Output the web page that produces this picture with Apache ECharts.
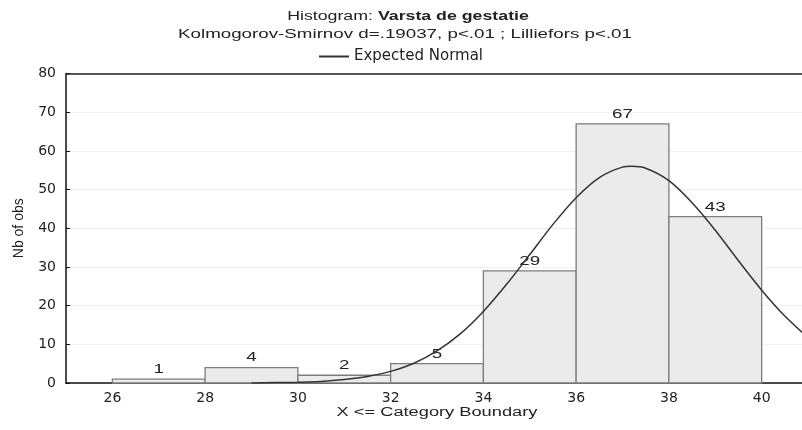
<!DOCTYPE html>
<html><head><meta charset="utf-8">
<script src="https://cdn.jsdelivr.net/npm/echarts@6/dist/echarts.min.js"></script>
<style>html,body{margin:0;padding:0;background:#fff}#c{width:802px;height:430px}</style>
</head><body><div id="c"></div>
<script>
// Histogram bins (lower edge, upper edge) and counts
const binLower = [26, 28, 30, 32, 34, 36, 38];
const binUpper = [28, 30, 32, 34, 36, 38, 40];
const counts = [1, 4, 2, 5, 29, 67, 43];
// Expected normal curve
const curveX = [29, 29.5, 30, 30.5, 31, 31.5, 32, 32.5, 33, 33.5, 34, 34.5, 35, 35.5, 36, 36.5, 37, 37.2, 37.5, 38, 38.5, 39, 39.5, 40, 40.5, 41];
const curveY = [0.0, 0.1, 0.2, 0.4, 0.9, 1.7, 3.0, 5.1, 8.3, 12.7, 18.5, 25.5, 33.2, 41.0, 47.9, 53.1, 55.8, 56.0, 55.5, 52.3, 46.6, 39.5, 31.6, 24.0, 17.3, 11.7];
const xTicks = [26, 28, 30, 32, 34, 36, 38, 40];
const yTop = 80;
const titleMain = 'Histogram: ';
const titleBold = 'Varsta de gestatie';
const subtitle = 'Kolmogorov-Smirnov d=.19037, p<.01 ; Lilliefors p<.01';
const xName = 'X <= Category Boundary';
const yName = 'Nb of obs';

const FONT = 'Liberation Sans, Arial, sans-serif';
const WFONT = 'DejaVu Sans, Verdana, sans-serif';
const chart = echarts.init(document.getElementById('c'));
const histData = binLower.map((l, i) => [l, binUpper[i], counts[i]]);
const curveData = curveX.map((x, i) => [x, curveY[i]]);

chart.setOption({
  backgroundColor: '#fff',
  animation: false,
  graphic: [{
    type: 'text', x: 408, y: 17, scaleX: 1.42,
    style: {
      text: '{n|' + titleMain + '}{b|' + titleBold + '}',
      align: 'center', verticalAlign: 'middle',
      rich: {
        n: { fontFamily: FONT, fontSize: 12.5, fontWeight: 'normal', fill: '#222' },
        b: { fontFamily: FONT, fontSize: 12.5, fontWeight: 'bold', fill: '#222' }
      }
    }
  }, {
    type: 'text', x: 405, y: 35, scaleX: 1.5,
    style: { text: subtitle, align: 'center', verticalAlign: 'middle',
             font: '12.5px ' + FONT, fill: '#222' }
  }, {
    type: 'text', x: 437, y: 413, scaleX: 1.52,
    style: { text: xName, align: 'center', verticalAlign: 'middle',
             font: '12px ' + FONT, fill: '#222' }
  }],
  legend: {
    top: 44, left: 'center',
    itemWidth: 30, itemHeight: 2, itemGap: 6,
    textStyle: { fontFamily: WFONT, fontSize: 15, color: '#222' },
    data: [{ name: 'Expected Normal', icon: 'rect', itemStyle: { color: '#333' } }]
  },
  grid: { left: 66, right: 0, top: 73.5, bottom: 47 },
  xAxis: {
    type: 'value', min: 25, max: 40.87,
    splitLine: { show: false },
    axisLine: { show: true, onZero: false, lineStyle: { color: '#111', width: 1.5 } },
    axisTick: { show: true, inside: true, length: 4, customValues: xTicks, lineStyle: { color: '#111' } },
    axisLabel: { customValues: xTicks, fontFamily: WFONT, fontSize: 14, color: '#222', margin: 8 }
  },
  yAxis: {
    type: 'value', min: 0, max: 80, interval: 10,
    axisLine: { show: true, onZero: false, lineStyle: { color: '#111', width: 1.5 } },
    axisTick: { show: true, inside: true, length: 4, lineStyle: { color: '#111' } },
    axisLabel: { fontFamily: WFONT, fontSize: 14, color: '#222', margin: 10 },
    splitLine: { show: true, lineStyle: { color: '#f0f0f0', width: 1 } },
    name: yName, nameLocation: 'middle', nameGap: 40, nameRotate: 90,
    nameTextStyle: { fontFamily: FONT, fontSize: 14, color: '#222' }
  },
  series: [{
    type: 'custom',
    name: 'hist',
    data: histData,
    encode: { x: [0, 1], y: 2 },
    renderItem: function (params, api) {
      const x0 = api.value(0), x1 = api.value(1), v = api.value(2);
      const p0 = api.coord([x0, v]);
      const p1 = api.coord([x1, 0]);
      return {
        type: 'group',
        children: [{
          type: 'rect',
          shape: { x: p0[0], y: p0[1], width: p1[0] - p0[0], height: p1[1] - p0[1] },
          style: { fill: '#ebebeb', stroke: '#7d7d7d', lineWidth: 1.3 }
        }, {
          type: 'text',
          x: (p0[0] + p1[0]) / 2, y: p0[1] - 3, scaleX: 1.5,
          style: { text: String(v), align: 'center', verticalAlign: 'bottom',
                   font: '12.5px ' + FONT, fill: '#222' }
        }]
      };
    },
    z: 2
  }, {
    type: 'line',
    name: 'Expected Normal',
    data: curveData,
    smooth: 0.3,
    symbol: 'none',
    lineStyle: { color: '#333', width: 1.5 },
    itemStyle: { color: '#333' },
    markLine: {
      silent: true, symbol: 'none', animation: false,
      label: { show: false },
      lineStyle: { color: '#222', width: 1.5, type: 'solid' },
      data: [{ yAxis: yTop }]
    },
    z: 3
  }]
});
</script></body></html>
